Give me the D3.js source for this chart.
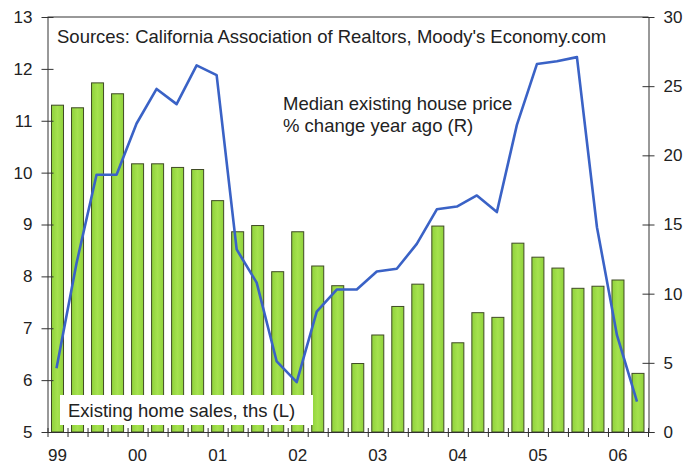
<!DOCTYPE html>
<html>
<head>
<script src="https://d3js.org/d3.v7.min.js"></script>
<style>
  body { margin: 0; background: #fff; }
  text { font-family: "Liberation Sans", Arial, sans-serif; fill: #222; }
</style>
</head>
<body>
<div id="chart"></div>
<script>
// quarterly, 99Q1 .. 06Q2
const quarters = ['99Q1','99Q2','99Q3','99Q4','00Q1','00Q2','00Q3','00Q4',
  '01Q1','01Q2','01Q3','01Q4','02Q1','02Q2','02Q3','02Q4',
  '03Q1','03Q2','03Q3','03Q4','04Q1','04Q2','04Q3','04Q4',
  '05Q1','05Q2','05Q3','05Q4','06Q1','06Q2']

// existing home sales, ths (left axis)
const homeSales = [11.30, 11.25, 11.73, 11.52, 10.17, 10.17, 10.10, 10.06,
  9.46, 8.86, 8.98, 8.09, 8.86, 8.20, 7.82, 6.32,
  6.87, 7.42, 7.85, 8.97, 6.72, 7.30, 7.21, 8.64,
  8.37, 8.16, 7.77, 7.81, 7.93, 6.13]

// median existing house price, % change year ago (right axis)
const priceChange = [4.6, 12.2, 18.6, 18.6, 22.3, 24.8, 23.7, 26.5,
  25.8, 13.2, 10.8, 5.1, 3.6, 8.7, 10.3, 10.3,
  11.6, 11.8, 13.6, 16.1, 16.3, 17.1, 15.9, 22.2,
  26.6, 26.8, 27.1, 14.8, 7.0, 2.2]

const yearLabels = ['99','00','01','02','03','04','05','06']
const leftTicks = [5, 6, 7, 8, 9, 10, 11, 12, 13]
const rightTicks = [0, 5, 10, 15, 20, 25, 30]

const w = 697, h = 465
const padLeft = 47.5, padRight = 648.5, padTop = 17, padBottom = 432

const svg = d3.select('#chart').append('svg')
  .attr('width', w).attr('height', h)

const defs = svg.append('defs')
const grad = defs.append('linearGradient').attr('id', 'barGrad')
  .attr('x1', '0%').attr('x2', '100%').attr('y1', '0%').attr('y2', '0%')
grad.append('stop').attr('offset', '0%').attr('stop-color', '#90d23c')
grad.append('stop').attr('offset', '50%').attr('stop-color', '#a5e24e')
grad.append('stop').attr('offset', '100%').attr('stop-color', '#90d23c')

const x = d3.scaleBand()
  .domain(quarters)
  .range([padLeft, padRight - 0.5])
  .paddingInner(0.4)
  .paddingOuter(0.2)

const yL = d3.scaleLinear().domain([5, 13]).range([padBottom, padTop])
const yR = d3.scaleLinear().domain([0, 30]).range([padBottom, padTop])

// bars
svg.append('g').selectAll('rect')
  .data(homeSales)
  .enter()
  .append('rect')
  .attr('x', (d, i) => x(quarters[i]))
  .attr('y', d => yL(d))
  .attr('width', x.bandwidth())
  .attr('height', d => yL(5) - yL(d))
  .style('fill', 'url(#barGrad)')
  .style('stroke', '#3f4a25')
  .style('stroke-width', 1)

// legend box for the bars
svg.append('rect')
  .attr('x', 60).attr('y', 395)
  .attr('width', 253).attr('height', 30)
  .style('fill', '#fff')

svg.append('text')
  .attr('x', 68).attr('y', 417)
  .style('font-size', '18.5px')
  .text('Existing home sales, ths (L)')

// line
const line = d3.line()
  .x((d, i) => x(quarters[i]) + x.bandwidth() / 2 - 1)
  .y(d => yR(d))

svg.append('path')
  .datum(priceChange)
  .attr('d', line)
  .style('fill', 'none')
  .style('stroke', '#3a62c6')
  .style('stroke-width', 2.6)
  .style('stroke-linejoin', 'round')

// frame top
svg.append('line')
  .attr('x1', padLeft).attr('x2', padRight)
  .attr('y1', padTop).attr('y2', padTop)
  .style('stroke', '#333')

// left axis
const gL = svg.append('g')
  .attr('transform', 'translate(' + padLeft + ',0)')
  .call(d3.axisLeft(yL).tickValues(leftTicks).tickSize(6).tickSizeOuter(0).tickPadding(9))
gL.selectAll('.tick line').attr('x1', 6)

// right axis
const gR = svg.append('g')
  .attr('transform', 'translate(' + padRight + ',0)')
  .call(d3.axisRight(yR).tickValues(rightTicks).tickSize(6).tickSizeOuter(0).tickPadding(9))
gR.selectAll('.tick line').attr('x1', -6)

// bottom axis: small ticks between quarters
const xb = d3.scaleLinear().domain([0, quarters.length]).range([padLeft, padRight - 0.5])
const gB = svg.append('g')
  .attr('transform', 'translate(0,' + padBottom + ')')
  .call(d3.axisBottom(xb).tickValues(d3.range(quarters.length + 1)).tickSize(5).tickSizeOuter(0).tickFormat(''))
gB.selectAll('.tick line').attr('y1', -4)
gB.select('.domain').attr('d', 'M' + padLeft + ',0.5H' + (padRight + 6))

svg.selectAll('.domain, .tick line').style('stroke', '#333')
svg.selectAll('.tick text')
  .style('font-size', '17px')
  .style('font-family', '"Liberation Sans", Arial, sans-serif')
  .style('fill', '#222')

// year labels under first quarter of each year
svg.append('g').selectAll('text')
  .data(yearLabels)
  .enter()
  .append('text')
  .attr('x', (d, i) => x(quarters[i * 4]) + x.bandwidth() / 2)
  .attr('y', 461)
  .attr('text-anchor', 'middle')
  .style('font-size', '17px')
  .text(d => d)

// annotations
svg.append('text')
  .attr('x', 57).attr('y', 43)
  .style('font-size', '18.5px')
  .text("Sources: California Association of Realtors, Moody's Economy.com")

const note = svg.append('text')
  .attr('x', 283).attr('y', 110)
  .style('font-size', '18.5px')
note.append('tspan').attr('x', 283).text('Median existing house price')
note.append('tspan').attr('x', 283).attr('dy', 22).text('% change year ago (R)')
</script>
</body>
</html>
